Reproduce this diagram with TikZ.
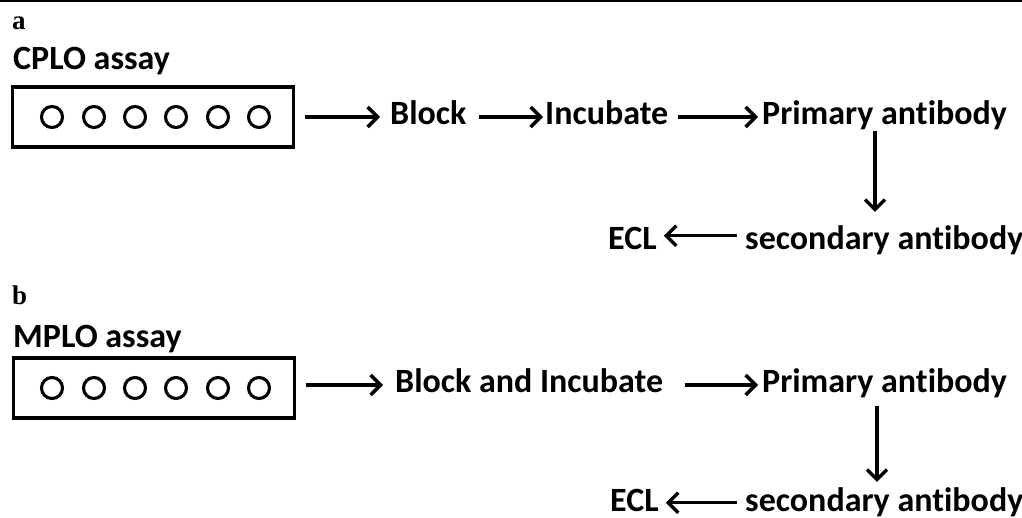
\documentclass[tikz,border=0pt]{standalone}
\usepackage{fontspec}
\setmainfont{Carlito}[Ligatures={NoCommon}]
\newfontfamily\serifbold{Liberation Serif}
\usetikzlibrary{arrows.meta}
\begin{document}
\begin{tikzpicture}[x=1pt,y=-1pt,
  txt/.style={inner sep=0pt,anchor=base west,font=\fontsize{34}{40}\selectfont\bfseries},
  lbl/.style={inner sep=0pt,anchor=base west,font=\serifbold\fontsize{27}{30}\selectfont\bfseries},
  plate/.style={draw,line width=3.6pt,minimum width=281pt,minimum height=60pt,inner sep=0pt},
  well/.style={draw,line width=3.1pt,circle,minimum size=21pt,inner sep=0pt},
  arr/.style={line width=3.4pt,-{Straight Barb[length=10pt,width=20pt]}}]
\useasboundingbox (0,0) rectangle (1022,518);
\draw[line width=2.5pt] (0,1) -- (1022,1);
\coordinate (vxa) at (875,0);
\coordinate (vxb) at (877,0);
% ---------- a ----------
\node[lbl] (la) at (12,30) {a};
\node[txt] (ta) at (13,70) {CPLO assay};
\node[plate] (boxa) at (153,117) {};
\foreach \i/\x in {1/52,2/94,3/135,4/176,5/218,6/259}
  \node[well] (wa\i) at (\x,117) {};
\node[txt] (blocka) at (390,125) {Block};
\node[txt] (inca) at (545,125) {Incubate};
\node[txt] (pria) at (762,125) {Primary antibody};
\node[txt] (seca) at (745,250) {secondary antibody};
\node[txt] (ecla) at (608,250) {ECL};
\draw[arr] ([xshift=10pt]boxa.east) -- ([xshift=-10pt]boxa.east -| blocka.west);
\draw[arr] ([xshift=12pt]blocka.east |- boxa.east) -- ([xshift=-2pt]boxa.east -| inca.west);
\draw[arr] ([xshift=10pt]inca.east |- boxa.east) -- ([xshift=-4pt]boxa.east -| pria.west);
\draw[arr] (pria.south -| vxa) -- ([yshift=14pt]seca.north -| vxa);
\draw[arr] ([xshift=-8pt,yshift=5pt]seca.west) -- ([xshift=7pt,yshift=5pt]seca.west -| ecla.east);
% ---------- b ----------
\node[lbl] (lb) at (12,305) {b};
\node[txt] (tb) at (13,347) {MPLO assay};
\node[plate] (boxb) at (154,388) {};
\foreach \i/\x in {1/52,2/94,3/135,4/176,5/218,6/259}
  \node[well] (wb\i) at (\x,388) {};
\node[txt] (blockb) at (395,392) {Block and Incubate};
\node[txt] (prib) at (762,392) {Primary antibody};
\node[txt] (secb) at (745,511) {secondary antibody};
\node[txt] (eclb) at (610,511) {ECL};
\draw[arr] ([xshift=10pt,yshift=3pt]boxb.east) -- ([xshift=-12pt,yshift=3pt]boxb.east -| blockb.west);
\draw[arr] ([xshift=22pt,yshift=3pt]blockb.east |- boxb.east) -- ([xshift=-4pt,yshift=3pt]boxb.east -| prib.west);
\draw[arr] ([yshift=-8pt]prib.south -| vxb) -- ([yshift=5pt]secb.north -| vxb);
\draw[arr] ([xshift=-8pt,yshift=-1pt]secb.west) -- ([xshift=7pt,yshift=-1pt]secb.west -| eclb.east);
\end{tikzpicture}
\end{document}
